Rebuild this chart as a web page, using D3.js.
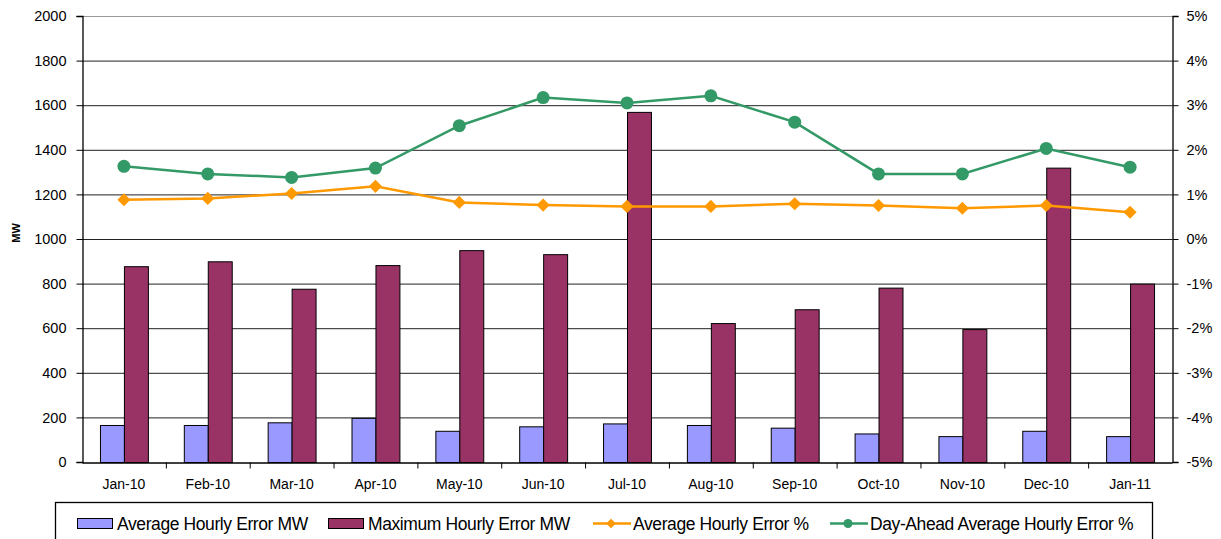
<!DOCTYPE html>
<html>
<head>
<meta charset="utf-8">
<script src="https://cdn.jsdelivr.net/npm/d3@7"></script>
<style>
  body { margin: 0; background: #fff; }
  text { font-family: "Liberation Sans", Arial, sans-serif; fill: #000; }
</style>
</head>
<body>
<div id="chart"></div>
<script>
// data
var months = ["Jan-10","Feb-10","Mar-10","Apr-10","May-10","Jun-10","Jul-10","Aug-10","Sep-10","Oct-10","Nov-10","Dec-10","Jan-11"];
var avgErrorMW = [166, 166, 178, 198, 140, 160, 173, 166, 154, 128, 116, 140, 116];
var maxErrorMW = [878, 900, 777, 883, 950, 932, 1570, 623, 685, 782, 596, 1320, 800];
var avgErrorPct = [0.88, 0.91, 1.02, 1.18, 0.82, 0.76, 0.73, 0.73, 0.79, 0.75, 0.69, 0.75, 0.60];
var dayAheadPct = [1.63, 1.46, 1.38, 1.59, 2.54, 3.17, 3.05, 3.21, 2.62, 1.46, 1.46, 2.03, 1.61];
var mwTicks = d3.range(0, 2001, 200);
var pctTicks = d3.range(-5, 6, 1);

var legendItems = [
  {name: "Average Hourly Error MW", type: "bar", color: "#9999ff"},
  {name: "Maximum Hourly Error MW", type: "bar", color: "#993366"},
  {name: "Average Hourly Error %", type: "diamond", color: "#ff9900"},
  {name: "Day-Ahead Average Hourly Error %", type: "circle", color: "#339966"}
];

// set the dimensions and margins of the graph
var W = 1221, H = 539;
var margin = {top: 16, right: 49, bottom: 77, left: 82},
    width = W - margin.left - margin.right,
    height = H - margin.top - margin.bottom;

var svg = d3.select("#chart")
  .append("svg")
    .attr("width", W)
    .attr("height", H)
  .append("g")
    .attr("transform", "translate(" + margin.left + "," + margin.top + ")");

var x = d3.scaleBand().domain(months).range([0, width]).padding(0);
var xSub = d3.scaleBand().domain(["avg", "max"]).range([0, x.bandwidth()])
  .paddingInner(0).paddingOuter(0.75);
var y = d3.scaleLinear().domain([0, 2000]).range([height, 0]);
var y2 = d3.scaleLinear().domain([-5, 5]).range([height, 0]);

// gridlines
svg.append("g")
  .selectAll("line")
  .data(mwTicks.filter(d => d > 0))
  .enter()
  .append("line")
    .attr("x1", 0)
    .attr("x2", width)
    .attr("y1", d => y(d) + 0.5)
    .attr("y2", d => y(d) + 0.5)
    .attr("stroke", d => d == 2000 ? "#999" : "#222")
    .attr("stroke-width", 1);

// bars
var groups = svg.append("g")
  .selectAll("g")
  .data(months)
  .enter()
  .append("g")
    .attr("transform", d => "translate(" + x(d) + ",0)");

groups.append("rect")
  .attr("x", xSub("avg") + 0.5)
  .attr("y", (d, i) => y(avgErrorMW[i]) + 0.5)
  .attr("width", xSub.bandwidth())
  .attr("height", (d, i) => height - y(avgErrorMW[i]))
  .attr("fill", "#9999ff")
  .attr("stroke", "#000")
  .attr("stroke-width", 1);

groups.append("rect")
  .attr("x", xSub("max") + 0.5)
  .attr("y", (d, i) => y(maxErrorMW[i]) + 0.5)
  .attr("width", xSub.bandwidth())
  .attr("height", (d, i) => height - y(maxErrorMW[i]))
  .attr("fill", "#993366")
  .attr("stroke", "#000")
  .attr("stroke-width", 1);

// left axis
var yAxis = svg.append("g")
  .attr("transform", "translate(0.5,0)")
  .call(d3.axisLeft(y).tickValues(mwTicks).tickSize(6).tickPadding(10)
    .tickFormat(d3.format("d")));
yAxis.selectAll("text").attr("font-size", "14.5px");

// right axis
var yAxis2 = svg.append("g")
  .attr("transform", "translate(" + (width + 0.5) + ",0)")
  .call(d3.axisRight(y2).tickValues(pctTicks).tickSize(6).tickPadding(8)
    .tickFormat(d => d + "%"));
yAxis2.selectAll("text").attr("font-size", "14.5px");

// x axis
var xAxis = svg.append("g")
  .attr("transform", "translate(0," + (height + 0.5) + ")")
  .call(d3.axisBottom(x).tickSize(0).tickPadding(17));
xAxis.selectAll("text").attr("font-size", "14px");
xAxis.append("g")
  .selectAll("line")
  .data(months.slice(1))
  .enter()
  .append("line")
    .attr("x1", d => x(d) + 0.5)
    .attr("x2", d => x(d) + 0.5)
    .attr("y1", 0)
    .attr("y2", 6)
    .attr("stroke", "#000");

[yAxis, yAxis2, xAxis].forEach(function(a){
  a.selectAll(".domain").attr("stroke", "#000").attr("stroke-width", 1.3);
  a.selectAll(".tick line").attr("stroke", "#000");
});

// y axis label
svg.append("text")
  .attr("transform", "rotate(-90)")
  .attr("x", -height / 2 + 6)
  .attr("y", -62)
  .attr("text-anchor", "middle")
  .attr("font-size", "11px")
  .attr("font-weight", "bold")
  .text("MW");

// lines
var line = d3.line()
  .x((d, i) => x(months[i]) + x.bandwidth() / 2)
  .y(d => y2(d));

svg.append("path")
  .datum(avgErrorPct)
  .attr("d", line)
  .attr("fill", "none")
  .attr("stroke", "#ff9900")
  .attr("stroke-width", 2.5);

svg.append("g")
  .selectAll("path")
  .data(avgErrorPct)
  .enter()
  .append("path")
    .attr("d", d3.symbol().type(d3.symbolDiamond2).size(110))
    .attr("transform", (d, i) => "translate(" + (x(months[i]) + x.bandwidth() / 2) + "," + y2(d) + ")")
    .attr("fill", "#ff9900");

svg.append("path")
  .datum(dayAheadPct)
  .attr("d", line)
  .attr("fill", "none")
  .attr("stroke", "#339966")
  .attr("stroke-width", 2.5);

svg.append("g")
  .selectAll("circle")
  .data(dayAheadPct)
  .enter()
  .append("circle")
    .attr("cx", (d, i) => x(months[i]) + x.bandwidth() / 2)
    .attr("cy", d => y2(d))
    .attr("r", 6.5)
    .attr("fill", "#339966");

// legend
var root = d3.select("svg");
root.append("rect")
  .attr("x", 55.5)
  .attr("y", 502.5)
  .attr("width", 1097)
  .attr("height", 50)
  .attr("fill", "#fff")
  .attr("stroke", "#000")
  .attr("stroke-width", 1.3);

var legendX = [77, 328, 593, 830];
var leg = root.append("g")
  .selectAll("g")
  .data(legendItems)
  .enter()
  .append("g")
    .attr("transform", (d, i) => "translate(" + legendX[i] + ",523)");

leg.filter(d => d.type == "bar")
  .append("rect")
  .attr("x", 0.5).attr("y", -4.5)
  .attr("width", 35).attr("height", 10)
  .attr("fill", d => d.color)
  .attr("stroke", "#000");

leg.filter(d => d.type != "bar")
  .append("line")
  .attr("x1", 0).attr("x2", 38)
  .attr("y1", 0.5).attr("y2", 0.5)
  .attr("stroke", d => d.color)
  .attr("stroke-width", 2.5);

leg.filter(d => d.type == "diamond")
  .append("path")
  .attr("d", d3.symbol().type(d3.symbolDiamond2).size(60))
  .attr("transform", "translate(18,0.5)")
  .attr("fill", d => d.color);

leg.filter(d => d.type == "circle")
  .append("circle")
  .attr("cx", 18).attr("cy", 0.5).attr("r", 4.5)
  .attr("fill", d => d.color);

leg.append("text")
  .attr("x", d => d.type == "bar" ? 40 : 40)
  .attr("y", 6.5)
  .attr("font-size", "17.5px")
  .attr("letter-spacing", "-0.4px")
  .text(d => d.name);
</script>
</body>
</html>
